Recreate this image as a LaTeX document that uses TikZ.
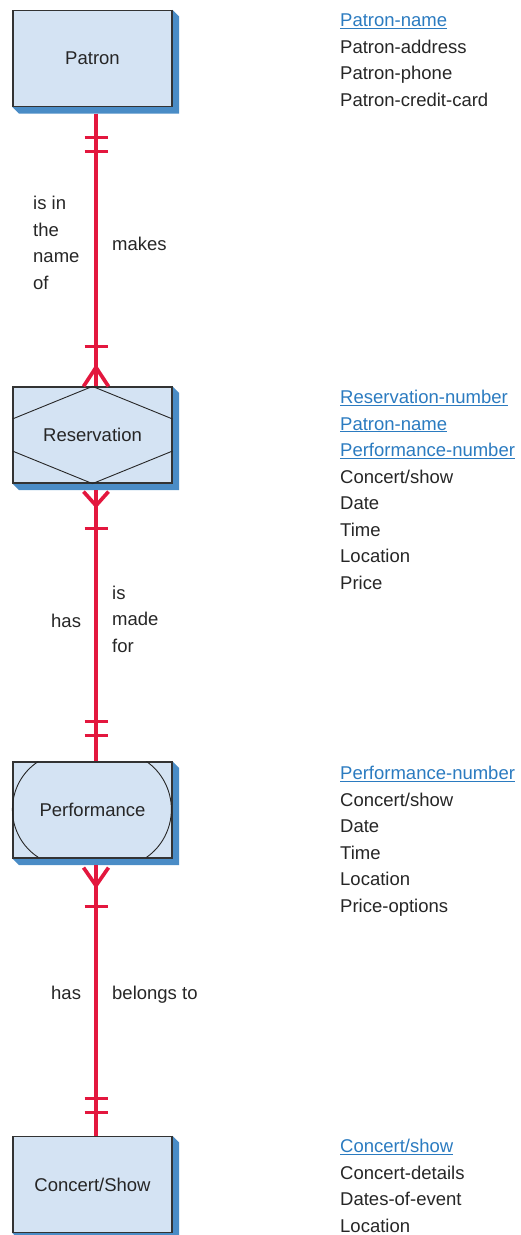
\documentclass[tikz,border=0pt]{standalone}
\usepackage{fontspec}
\setmainfont{Liberation Sans}
\usepackage{xcolor}
\usetikzlibrary{calc,backgrounds}
\definecolor{erFill}{HTML}{D4E3F3}
\definecolor{erShadow}{HTML}{4A8CC6}
\definecolor{erKey}{HTML}{2B7BC0}
\definecolor{erLine}{HTML}{E3173E}
\definecolor{erText}{HTML}{262626}
\newcommand{\erfont}{\fontsize{18.5}{26.5}\selectfont}
\newcommand{\keyattr}[1]{\textcolor{erKey}{\underline{#1}}}
\tikzset{
  entity/.style={
    draw=black!80, fill=erFill, line width=1.2pt, inner sep=0pt,
    minimum width=159pt, minimum height=96pt, font=\erfont, text=erText
  },
  innerline/.style={black!85, line width=0.9pt},
  relline/.style={erLine, line width=4pt},
  barmark/.style={erLine, line width=3.7pt},
  crowfoot/.style={erLine, line width=3.7pt, line join=miter},
  rolename/.style={font=\erfont, text=erText, align=left, anchor=base west, inner sep=0pt},
  attrlist/.style={font=\erfont, text=erText, align=left, anchor=base west, inner sep=0pt}
}

\begin{document}
\begin{tikzpicture}[x=1pt, y=-1pt]
  \useasboundingbox (0,0) rectangle (521,1235);
  % entities
  \node[entity] (patron) at (92.5,58.5) {Patron};
  \node[entity] (resv) at (92.5,435) {Reservation};
  \node[entity] (perf) at (92.5,810) {Performance};
  \node[entity] (show) at (92.5,1184.5) {Concert/Show};
  \begin{scope}[on background layer]
    \foreach \e in {patron,resv,perf,show}
      \fill[erShadow] (\e.north east) -- ([shift={(6.5,6.5)}]\e.north east)
        -- ([shift={(6.5,6.5)}]\e.south east) -- ([shift={(6.5,6.5)}]\e.south west)
        -- (\e.south west) -- cycle;
  \end{scope}
  % associative entity and attributive entity marks
  \draw[innerline] ([yshift=16]resv.west) -- (resv.north) -- ([yshift=16]resv.east);
  \draw[innerline] ([yshift=-16]resv.west) -- (resv.south) -- ([yshift=-16]resv.east);
  \begin{scope}[shift={(perf.north west)}]
    \draw[innerline] (26,0) .. controls (9.7,10.5) and (0,28.6) .. (0,48)
      .. controls (0,67.4) and (9.7,85.5) .. (26,96);
    \draw[innerline] (134,0) .. controls (149.3,10.5) and (159,28.6) .. (159,48)
      .. controls (159,67.4) and (149.3,85.5) .. (134,96);
  \end{scope}

  % Patron -- Reservation
  \draw[relline] ([shift={(3.5,6.5)}]patron.south) -- ([xshift=3.5]resv.north);
  \draw[barmark] ([shift={(-8,30.5)}]patron.south) -- ++(23,0);
  \draw[barmark] ([shift={(-8,44.5)}]patron.south) -- ++(23,0);
  \draw[crowfoot] ([xshift=-9]resv.north) -- ([shift={(3.5,-19)}]resv.north) -- ([xshift=16]resv.north);
  \draw[barmark] ([shift={(-8,-40)}]resv.north) -- ++(23,0);
  \node[rolename] (isin) at (33,289) {is in\\the\\name\\of};
  \node[rolename] (makes) at (112,250) {makes};

  % Reservation -- Performance
  \draw[relline] ([shift={(3.5,6.5)}]resv.south) -- ([xshift=3.5]perf.north);
  \draw[crowfoot] ([shift={(-9,8)}]resv.south) -- ([shift={(3.5,22)}]resv.south) -- ([shift={(16,8)}]resv.south);
  \draw[barmark] ([shift={(-8,45)}]resv.south) -- ++(23,0);
  \draw[barmark] ([shift={(-8,-40)}]perf.north) -- ++(23,0);
  \draw[barmark] ([shift={(-8,-26)}]perf.north) -- ++(23,0);
  \node[rolename] (hasres) at (51,627) {has};
  \node[rolename] (madefor) at (112,652) {is\\made\\for};

  % Performance -- Concert/Show
  \draw[relline] ([shift={(3.5,6.5)}]perf.south) -- ([xshift=3.5]show.north);
  \draw[crowfoot] ([shift={(-9,9)}]perf.south) -- ([shift={(3.5,27)}]perf.south) -- ([shift={(16,9)}]perf.south);
  \draw[barmark] ([shift={(-8,48)}]perf.south) -- ++(23,0);
  \draw[barmark] ([shift={(-8,-37.5)}]show.north) -- ++(23,0);
  \draw[barmark] ([shift={(-8,-23.5)}]show.north) -- ++(23,0);
  \node[rolename] (hasperf) at (51,999) {has};
  \node[rolename] (belongs) at (112,999) {belongs to};

  % attribute lists
  \node[attrlist] (patronattr) at (340,106)
    {\keyattr{Patron-name}\\Patron-address\\Patron-phone\\Patron-credit-card};
  \node[attrlist] (resvattr) at (340,589)
    {\keyattr{Reservation-number}\\\keyattr{Patron-name}\\\keyattr{Performance-number}\\Concert/show\\Date\\Time\\Location\\Price};
  \node[attrlist] (perfattr) at (340,912)
    {\keyattr{Performance-number}\\Concert/show\\Date\\Time\\Location\\Price-options};
  \node[attrlist] (showattr) at (340,1232)
    {\keyattr{Concert/show}\\Concert-details\\Dates-of-event\\Location};
\end{tikzpicture}
\end{document}
